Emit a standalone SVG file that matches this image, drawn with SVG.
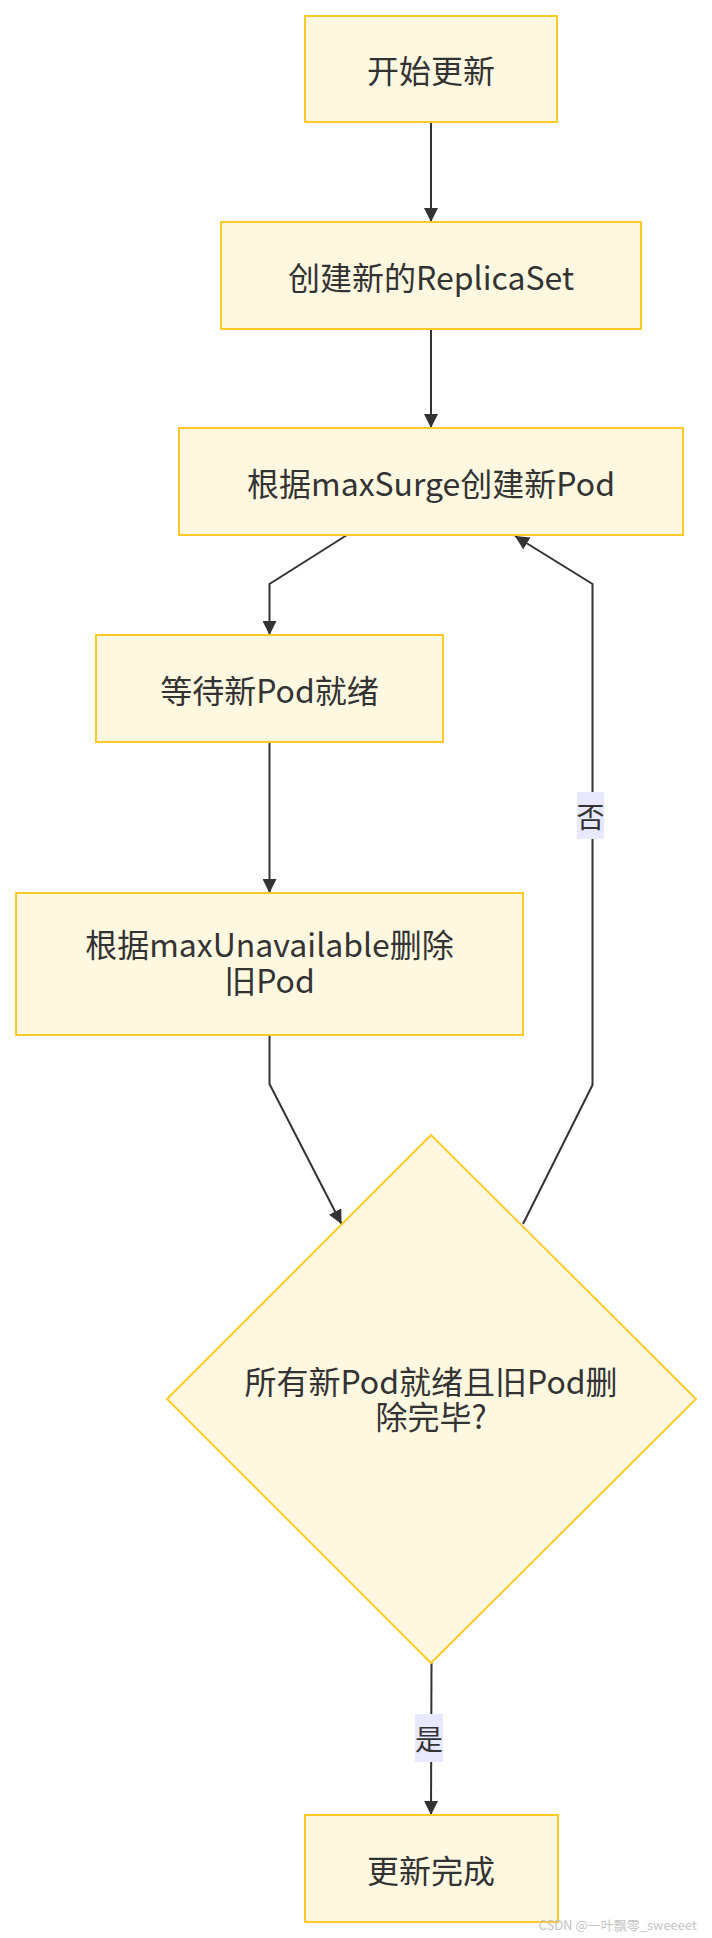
<svg xmlns="http://www.w3.org/2000/svg" width="712" height="1938" viewBox="0 0 712 1938">
<style>
.node{fill:#fff8e1;stroke:#ffca28;stroke-width:2}
.t{font-family:"Noto Sans CJK SC","Noto Sans",sans-serif;font-size:32px;fill:#333;text-anchor:middle;dominant-baseline:central}
.edge{fill:none;stroke:#333;stroke-width:2}
.lbl{fill:#e8e8ff}
.lt{font-family:"Noto Sans CJK SC","Noto Sans",sans-serif;font-size:28px;fill:#333;text-anchor:middle;dominant-baseline:central}
.wm{font-family:"Noto Sans CJK SC","Noto Sans",sans-serif;font-size:13px;fill:#c4c4c4;text-anchor:end}
</style>
<defs>
<marker id="arr" viewBox="0 0 10 10" refX="10" refY="5" markerWidth="7" markerHeight="7" orient="auto" markerUnits="strokeWidth">
<path d="M0,0 L10,5 L0,10 z" fill="#333"/>
</marker>
</defs>
<rect width="712" height="1938" fill="#fff"/>
<g id="edges">
<path class="edge" d="M431,122 L431,222" marker-end="url(#arr)"/>
<path class="edge" d="M431,329 L431,428" marker-end="url(#arr)"/>
<path class="edge" d="M347,535 L269.5,584 L269.5,635" marker-end="url(#arr)"/>
<path class="edge" d="M269.5,742 L269.5,893" marker-end="url(#arr)"/>
<path class="edge" d="M269.5,1035 L269.5,1084 L341.5,1224" marker-end="url(#arr)"/>
<path class="edge" d="M523,1224 L592.5,1085 L592.5,584 L515,536" marker-end="url(#arr)"/>
<path class="edge" d="M431.5,1663 L431,1815" marker-end="url(#arr)"/>
</g>
<g id="edge-labels">
<g id="label-no"><rect class="lbl" x="577" y="792" width="27" height="47"/><text class="lt" x="590.5" y="815.5">否</text></g>
<g id="label-yes"><rect class="lbl" x="415" y="1714" width="28" height="48"/><text class="lt" x="429" y="1738">是</text></g>
</g>
<g id="n1"><rect class="node" x="305" y="16" width="252" height="106"/><text class="t" x="431" y="69">开始更新</text></g>
<g id="n2"><rect class="node" x="221" y="222" width="420" height="107"/><text class="t" x="431" y="275.5">创建新的ReplicaSet</text></g>
<g id="n3"><rect class="node" x="179" y="428" width="504" height="107"/><text class="t" x="431" y="481.5">根据maxSurge创建新Pod</text></g>
<g id="n4"><rect class="node" x="96" y="635" width="347" height="107"/><text class="t" x="269.5" y="688.5">等待新Pod就绪</text></g>
<g id="n5"><rect class="node" x="16" y="893" width="507" height="142"/><text class="t"><tspan x="269.5" y="943">根据maxUnavailable删除</tspan><tspan x="269.5" y="979">旧Pod</tspan></text></g>
<g id="n6"><polygon class="node" points="431,1135 696,1399 431,1663 167,1399"/><text class="t"><tspan x="431" y="1380">所有新Pod就绪且旧Pod删</tspan><tspan x="431" y="1415">除完毕?</tspan></text></g>
<g id="n7"><rect class="node" x="305" y="1815" width="253" height="107"/><text class="t" x="431" y="1868.5">更新完成</text></g>
<text class="wm" x="697" y="1930">CSDN @一叶飘零_sweeeet</text>
</svg>
